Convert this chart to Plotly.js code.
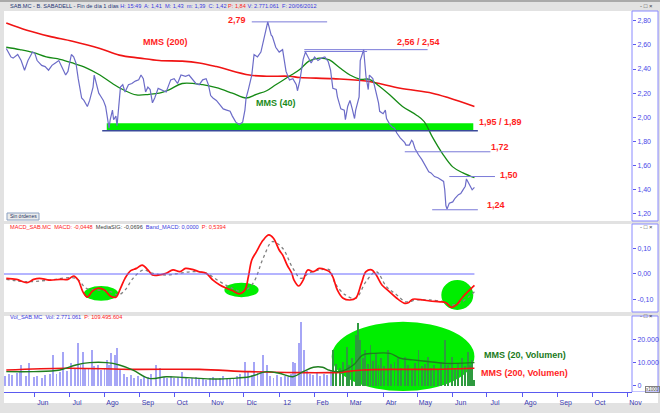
<!DOCTYPE html>
<html><head><meta charset="utf-8">
<script src="https://cdn.plot.ly/plotly-3.0.1.min.js"></script>
<style>html,body{margin:0;padding:0;background:#e2e2e2;} #chart{width:660px;height:413px;}</style>
</head><body><div id="chart"></div>
<script>
// ---------------- DATA ----------------
const priceDates = ['2011-05-07','2011-05-09','2011-05-11','2011-05-13','2011-05-17','2011-05-20','2011-05-23','2011-05-26','2011-05-30',
'2011-06-01','2011-06-03','2011-06-07','2011-06-10','2011-06-13','2011-06-16','2011-06-19','2011-06-22','2011-06-25','2011-06-28','2011-06-30',
'2011-07-03','2011-07-05','2011-07-07','2011-07-09','2011-07-11','2011-07-12','2011-07-14','2011-07-17','2011-07-19','2011-07-22','2011-07-23','2011-07-25','2011-07-27','2011-07-29','2011-07-31',
'2011-08-02','2011-08-03','2011-08-05','2011-08-06','2011-08-08','2011-08-09','2011-08-11','2011-08-12','2011-08-13','2011-08-14','2011-08-15','2011-08-17','2011-08-19','2011-08-22','2011-08-25','2011-08-28','2011-08-31',
'2011-09-02','2011-09-04','2011-09-06','2011-09-08','2011-09-10','2011-09-12','2011-09-14','2011-09-17','2011-09-24','2011-09-28',
'2011-10-01','2011-10-04','2011-10-07','2011-10-11','2011-10-14','2011-10-17','2011-10-20','2011-10-23','2011-10-26','2011-10-29','2011-10-31',
'2011-11-02','2011-11-04','2011-11-07','2011-11-10','2011-11-13','2011-11-16','2011-11-19','2011-11-21','2011-11-24','2011-11-27','2011-11-30',
'2011-12-02','2011-12-03','2011-12-05','2011-12-08','2011-12-10','2011-12-13','2011-12-16','2011-12-19','2011-12-22','2011-12-25','2011-12-26','2011-12-29',
'2012-01-01','2012-01-04','2012-01-06','2012-01-07','2012-01-10','2012-01-13','2012-01-16','2012-01-17','2012-01-19','2012-01-22','2012-01-24','2012-01-26','2012-01-29',
'2012-02-01','2012-02-04','2012-02-07','2012-02-10','2012-02-13','2012-02-15','2012-02-17','2012-02-20','2012-02-21','2012-02-24','2012-02-27','2012-02-28',
'2012-03-01','2012-03-03','2012-03-05','2012-03-07','2012-03-08','2012-03-11','2012-03-12','2012-03-14','2012-03-15','2012-03-16','2012-03-17','2012-03-19','2012-03-20','2012-03-23','2012-03-24','2012-03-26','2012-03-28','2012-03-29',
'2012-04-01','2012-04-03','2012-04-04','2012-04-07','2012-04-09','2012-04-11','2012-04-13','2012-04-16','2012-04-18','2012-04-20','2012-04-21','2012-04-24','2012-04-26','2012-04-27','2012-04-29',
'2012-05-01','2012-05-02','2012-05-05','2012-05-07','2012-05-09','2012-05-11','2012-05-13','2012-05-16','2012-05-19','2012-05-22','2012-05-24','2012-05-25','2012-05-26','2012-05-27','2012-05-29',
'2012-06-01','2012-06-03','2012-06-06','2012-06-08','2012-06-10','2012-06-12','2012-06-13','2012-06-14','2012-06-16','2012-06-18','2012-06-20'];
const priceClose = [2.57,2.53,2.50,2.49,2.52,2.47,2.39,2.47,2.54,
2.53,2.47,2.43,2.42,2.39,2.43,2.45,2.47,2.41,2.35,2.38,
2.52,2.50,2.45,2.32,2.23,2.16,2.14,2.09,2.14,2.25,2.35,2.28,2.20,2.17,2.14,
2.09,2.02,1.91,1.98,2.06,1.98,2.01,1.93,2.06,2.17,2.25,2.27,2.21,2.27,2.28,2.30,2.31,
2.35,2.32,2.21,2.25,2.23,2.12,2.16,2.24,2.21,2.31,
2.32,2.28,2.35,2.34,2.35,2.31,2.28,2.27,2.31,2.32,2.27,
2.18,2.16,2.14,2.10,2.07,2.06,2.05,2.01,1.96,1.94,1.96,
2.06,2.16,2.23,2.35,2.52,2.50,2.54,2.68,2.79,2.68,2.67,2.58,
2.54,2.56,2.45,2.38,2.31,2.32,2.27,2.22,2.30,2.48,2.54,2.50,2.45,
2.50,2.47,2.49,2.50,2.46,2.39,2.24,2.23,2.17,2.07,2.06,1.98,
2.09,2.14,2.07,1.99,2.06,2.17,2.47,2.53,2.56,2.45,2.34,2.23,2.35,2.32,2.28,2.20,2.12,2.05,
2.03,2.06,1.99,1.94,1.92,1.91,1.87,1.83,1.81,1.79,1.77,1.77,1.81,1.80,1.74,
1.70,1.69,1.65,1.62,1.59,1.55,1.54,1.51,1.50,1.48,1.47,1.40,1.27,1.24,1.29,
1.30,1.33,1.36,1.37,1.40,1.43,1.49,1.47,1.43,1.40,1.42];

const mms200Dates = ['2011-05-07','2011-05-25','2011-06-14','2011-07-04','2011-07-28','2011-08-14','2011-09-01','2011-09-18','2011-10-08','2011-10-23','2011-11-07','2011-12-06','2011-12-21','2012-01-10','2012-01-19','2012-02-17','2012-03-17','2012-04-16','2012-05-14','2012-05-29','2012-06-20'];
const mms200 = [2.78,2.72,2.67,2.63,2.57,2.515,2.49,2.47,2.465,2.45,2.42,2.35,2.34,2.34,2.33,2.32,2.30,2.24,2.20,2.16,2.09];

const mms40Dates = ['2011-05-07','2011-05-19','2011-05-31','2011-06-11','2011-06-23','2011-07-04','2011-07-16','2011-07-28','2011-08-08','2011-08-17','2011-08-29','2011-09-09','2011-09-18','2011-09-27','2011-10-08','2011-10-26','2011-11-07','2011-11-21','2011-12-03','2011-12-12','2011-12-21','2011-12-29','2012-01-10','2012-01-19','2012-01-27','2012-02-05','2012-02-14','2012-02-23','2012-03-03','2012-03-12','2012-03-20','2012-03-27','2012-04-07','2012-04-18','2012-04-30','2012-05-07','2012-05-14','2012-05-23','2012-06-01','2012-06-10','2012-06-20'];
const mms40 = [2.58,2.56,2.535,2.50,2.48,2.45,2.41,2.35,2.28,2.23,2.185,2.19,2.20,2.23,2.28,2.27,2.245,2.20,2.16,2.19,2.22,2.27,2.34,2.395,2.465,2.49,2.475,2.41,2.35,2.315,2.315,2.27,2.185,2.09,2.02,1.965,1.84,1.70,1.59,1.54,1.50];

const macdDates = ['2011-05-07','2011-05-16','2011-05-25','2011-05-31','2011-06-05','2011-06-14','2011-06-23','2011-06-30','2011-07-05','2011-07-09','2011-07-13','2011-07-17','2011-07-21','2011-07-26','2011-08-01','2011-08-06','2011-08-11','2011-08-15','2011-08-19','2011-08-24','2011-08-29','2011-09-03','2011-09-08','2011-09-12','2011-09-18','2011-09-24','2011-09-30','2011-10-06','2011-10-11','2011-10-17','2011-10-23','2011-10-29','2011-11-04','2011-11-10','2011-11-16','2011-11-21','2011-11-27','2011-12-02','2011-12-05','2011-12-08','2011-12-12','2011-12-18','2011-12-23','2011-12-27','2012-01-01','2012-01-04','2012-01-08','2012-01-12','2012-01-14','2012-01-18','2012-01-22','2012-01-26','2012-01-31','2012-02-05','2012-02-11','2012-02-14','2012-02-17','2012-02-21','2012-02-26','2012-03-03','2012-03-08','2012-03-13','2012-03-17','2012-03-22','2012-03-26','2012-03-31','2012-04-05','2012-04-13','2012-04-20','2012-04-23','2012-04-27','2012-05-06','2012-05-12','2012-05-21','2012-05-26','2012-05-31','2012-06-04','2012-06-10','2012-06-20'];
const macd = [-0.017,-0.021,-0.034,-0.021,-0.017,-0.024,-0.021,-0.021,-0.008,-0.024,-0.069,-0.091,-0.069,-0.056,-0.063,-0.086,-0.091,-0.056,-0.017,0.013,0.022,0.035,0.016,-0.004,-0.004,0.003,0.016,0.009,0.022,0.018,0.009,0.003,-0.024,-0.043,-0.056,-0.065,-0.078,-0.063,-0.011,0.055,0.087,0.133,0.153,0.140,0.094,0.075,0.035,0.003,-0.024,-0.047,-0.024,0.016,0.009,0.022,0.016,0.009,-0.011,-0.063,-0.095,-0.102,-0.095,-0.037,0.009,0.016,-0.004,-0.043,-0.063,-0.095,-0.115,-0.113,-0.099,-0.102,-0.106,-0.109,-0.113,-0.131,-0.122,-0.089,-0.045];

const signalDates = ['2011-05-07','2011-05-25','2011-06-14','2011-07-07','2011-07-16','2011-07-25','2011-08-06','2011-08-13','2011-08-19','2011-08-26','2011-09-04','2011-09-12','2011-09-24','2011-10-06','2011-10-17','2011-10-29','2011-11-10','2011-11-21','2011-11-30','2011-12-09','2011-12-18','2011-12-26','2012-01-04','2012-01-13','2012-01-20','2012-01-27','2012-02-05','2012-02-14','2012-02-19','2012-02-28','2012-03-08','2012-03-17','2012-03-26','2012-04-04','2012-04-13','2012-04-21','2012-04-30','2012-05-12','2012-05-24','2012-05-31','2012-06-09','2012-06-20'];
const signal = [-0.021,-0.030,-0.024,-0.017,-0.056,-0.063,-0.069,-0.082,-0.063,-0.017,0.016,0.003,-0.004,0.003,0.009,0.003,-0.030,-0.056,-0.069,-0.037,0.062,0.127,0.101,0.022,-0.017,0.003,0.016,0.016,-0.037,-0.082,-0.095,-0.030,0.009,-0.050,-0.082,-0.109,-0.102,-0.102,-0.109,-0.122,-0.109,-0.070];

const volDates = ['2011-05-06','2011-05-09','2011-05-12','2011-05-16','2011-05-19','2011-05-20','2011-05-24','2011-05-27','2011-05-31',
'2011-06-03','2011-06-07','2011-06-10','2011-06-14','2011-06-17','2011-06-20','2011-06-23','2011-06-26','2011-06-29',
'2011-07-03','2011-07-06','2011-07-09','2011-07-11','2011-07-13','2011-07-15','2011-07-18','2011-07-21','2011-07-23','2011-07-26','2011-07-29',
'2011-08-01','2011-08-03','2011-08-05','2011-08-07','2011-08-10','2011-08-12','2011-08-15','2011-08-18','2011-08-21','2011-08-24','2011-08-27','2011-08-30',
'2011-09-02','2011-09-05','2011-09-08','2011-09-11','2011-09-15','2011-09-19','2011-09-22','2011-09-25','2011-09-28',
'2011-10-01','2011-10-04','2011-10-08','2011-10-11','2011-10-14','2011-10-17','2011-10-20','2011-10-23','2011-10-26','2011-10-29',
'2011-11-01','2011-11-04','2011-11-07','2011-11-10','2011-11-13','2011-11-16','2011-11-19','2011-11-22','2011-11-25','2011-11-28',
'2011-12-02','2011-12-05','2011-12-08','2011-12-10','2011-12-13','2011-12-16','2011-12-18','2011-12-21','2011-12-24','2011-12-27','2011-12-30',
'2012-01-03','2012-01-06','2012-01-09','2012-01-11','2012-01-13','2012-01-15','2012-01-18','2012-01-20','2012-01-23','2012-01-25','2012-01-28','2012-01-31',
'2012-02-03','2012-02-06','2012-02-09','2012-02-12','2012-02-15','2012-02-17','2012-02-20','2012-02-23','2012-02-26','2012-02-29',
'2012-03-02','2012-03-05','2012-03-08','2012-03-10','2012-03-12','2012-03-14','2012-03-16','2012-03-19','2012-03-21','2012-03-23','2012-03-26','2012-03-28','2012-03-30',
'2012-04-02','2012-04-05','2012-04-08','2012-04-11','2012-04-14','2012-04-17','2012-04-20','2012-04-23','2012-04-26','2012-04-29',
'2012-05-02','2012-05-05','2012-05-08','2012-05-10','2012-05-13','2012-05-16','2012-05-19','2012-05-22','2012-05-25','2012-05-28','2012-05-31',
'2012-06-03','2012-06-06','2012-06-09','2012-06-12','2012-06-14','2012-06-16','2012-06-18','2012-06-20'];
const volume = [4200,5200,4800,5600,6200,9100,4500,10100,3800,
4200,3500,4600,5200,13400,5000,6100,14800,6500,
10000,7200,18500,9000,14800,8000,7500,15600,8500,9100,6800,
7500,11300,9000,14100,13400,16300,7000,5200,4000,4800,3500,4200,
3200,4500,3800,5000,9100,7700,4000,3500,4200,
3300,4000,6200,3800,3000,3600,4100,3200,3500,2800,
3300,3900,3000,3600,4200,3100,3400,2900,4300,5200,
10500,6200,4800,10500,5800,6500,13400,9100,4200,3500,4800,
3900,4500,3800,5200,10500,9800,18500,27800,15600,6500,5200,4800,
5500,4300,5000,4600,7000,15600,9500,8000,10500,17000,
9000,12000,22100,27400,19900,12000,15600,9500,17700,11000,14100,9000,12000,
8500,15600,9500,10500,12000,8000,12700,9000,7500,10000,
15600,8500,9500,12700,8000,9000,7500,10500,19900,9000,12700,
8000,9500,12000,8500,14800,9000,11300,2771];

const volMA20Dates = ['2011-05-07','2011-05-31','2011-06-23','2011-07-07','2011-07-19','2011-08-03','2011-08-14','2011-08-26','2011-09-09','2011-09-24','2011-10-09','2011-10-23','2011-11-07','2011-11-21','2011-12-06','2011-12-21','2012-01-01','2012-01-13','2012-01-22','2012-01-31','2012-02-08','2012-02-14','2012-02-23','2012-03-06','2012-03-14','2012-03-23','2012-04-07','2012-04-16','2012-04-27','2012-05-12','2012-05-26','2012-06-04','2012-06-20'];
const volMA20 = [6200,6200,6900,9100,10100,10100,9100,6900,3300,4000,3700,3300,3000,3300,4000,6200,5500,4000,6200,8100,8100,6800,6200,9100,13400,14100,14100,12000,11300,10500,9800,9800,10100];

const volMA200Dates = ['2011-05-07','2011-06-28','2011-08-26','2011-10-23','2011-12-06','2012-01-19','2012-02-14','2012-02-23','2012-03-14','2012-04-13','2012-05-12','2012-06-20'];
const volMA200 = [6900,7700,7200,7200,6200,5800,5800,5900,6900,7200,7200,7700];

const monthTicks = ['2011-06-01','2011-07-01','2011-08-01','2011-09-01','2011-10-01','2011-11-01','2011-12-01','2012-01-01','2012-02-01','2012-03-01','2012-04-01','2012-05-01','2012-06-01','2012-07-01','2012-08-01','2012-09-01','2012-10-01','2012-11-01'];
const monthLabels = ['Jun','Jul','Ago','Sep','Oct','Nov','Dic','12','Feb','Mar','Abr','May','Jun','Jul','Ago','Sep','Oct','Nov'];

const priceTicks = [1.2,1.4,1.6,1.8,2.0,2.2,2.4,2.6,2.8];
const macdTicks = [-0.1,0,0.1];
const macdTickLabels = ['-0,10','0,00','0,10'];
const volTicks = [0,10000,20000];
const volTickLabels = ['0','10.000','20.000'];

// ---------------- CHART ----------------
const FONT = 'Arial, "Liberation Sans", sans-serif';
const BLUE = '#5a5af0';
const RED = '#ff1e1e';
const LEVEL = '#7a7ad8';
const GREEN_FILL = '#00ee00';

const ellipseStart = '2012-02-16', ellipseEnd = '2012-06-20';
const volColors = volDates.map(d => (d >= ellipseStart && d <= ellipseEnd) ? '#2f9a3f' : '#a6a6f6');

const traces = [
  {type:'bar', x:volDates, y:volume, xaxis:'x', yaxis:'y3', marker:{color:volColors, line:{width:0}}, width:1.7*86400000, hoverinfo:'skip'},
  {type:'scatter', mode:'lines', x:volMA200Dates, y:volMA200, xaxis:'x', yaxis:'y3', line:{color:'#f01414', width:1.6, shape:'spline'}, hoverinfo:'skip'},
  {type:'scatter', mode:'lines', x:volMA20Dates, y:volMA20, xaxis:'x', yaxis:'y3', line:{color:'#1e7e1e', width:1.4, shape:'spline'}, hoverinfo:'skip'},
  {type:'scatter', mode:'lines', x:signalDates, y:signal, xaxis:'x', yaxis:'y2', line:{color:'#808080', width:1.3, dash:'dot', shape:'spline'}, hoverinfo:'skip'},
  {type:'scatter', mode:'lines', x:macdDates, y:macd, xaxis:'x', yaxis:'y2', line:{color:'#ff1010', width:1.7, shape:'spline'}, hoverinfo:'skip'},
  {type:'scatter', mode:'lines', x:mms200Dates, y:mms200, xaxis:'x', yaxis:'y', line:{color:'#f01414', width:1.6, shape:'spline'}, hoverinfo:'skip'},
  {type:'scatter', mode:'lines', x:mms40Dates, y:mms40, xaxis:'x', yaxis:'y', line:{color:'#158a15', width:1.3, shape:'spline'}, hoverinfo:'skip'},
  {type:'scatter', mode:'lines', x:priceDates, y:priceClose, xaxis:'x', yaxis:'y', line:{color:'#6c6cc8', width:1.2}, hoverinfo:'skip'}
];

// pixel -> paper helpers (plot area: x 4..632, y 11..392)
const px = v => (v - 4) / 628;
const py = v => (392 - v) / 381;

const shapes = [
  // top bar darker line
  {type:'rect', xref:'paper', yref:'paper', x0:px(0), x1:px(664), y0:py(2), y1:py(-2), fillcolor:'#a9a9a9', line:{width:0}, layer:'below'},
  // right axis boxes
  {type:'rect', xref:'paper', yref:'paper', x0:1, x1:px(658), y0:py(221), y1:1, fillcolor:'#ffffff', line:{color:'#8a8aff', width:1}, layer:'below'},
  {type:'rect', xref:'paper', yref:'paper', x0:1, x1:px(658), y0:py(312), y1:py(224), fillcolor:'#ffffff', line:{color:'#8a8aff', width:1}, layer:'below'},
  {type:'rect', xref:'paper', yref:'paper', x0:1, x1:px(658), y0:0, y1:py(316), fillcolor:'#ffffff', line:{color:'#8a8aff', width:1}, layer:'below'},
  // white strip under x axis
  {type:'rect', xref:'paper', yref:'paper', x0:0, x1:px(658), y0:py(403), y1:0, fillcolor:'#ffffff', line:{width:0}, layer:'below'},
  // green support band 1.95 / 1.89
  {type:'rect', xref:'x', yref:'y', x0:'2011-08-03', x1:'2012-06-19', y0:1.89, y1:1.95, fillcolor:GREEN_FILL, line:{width:0}, layer:'below'},
  {type:'line', xref:'x', yref:'y', x0:'2011-07-30', x1:'2012-06-23', y0:1.888, y1:1.888, line:{color:'#3a4a9a', width:1.5}},
  // resistance / support lines
  {type:'line', xref:'x', yref:'y', x0:'2011-12-08', x1:'2012-02-12', y0:2.79, y1:2.79, line:{color:LEVEL, width:1}},
  {type:'line', xref:'x', yref:'y', x0:'2012-01-23', x1:'2012-05-10', y0:2.56, y1:2.56, line:{color:LEVEL, width:1}},
  {type:'line', xref:'x', yref:'y', x0:'2012-01-23', x1:'2012-03-18', y0:2.545, y1:2.545, line:{color:LEVEL, width:1}},
  {type:'line', xref:'x', yref:'y', x0:'2012-04-20', x1:'2012-07-04', y0:1.715, y1:1.715, line:{color:LEVEL, width:1}},
  {type:'line', xref:'x', yref:'y', x0:'2012-05-29', x1:'2012-07-08', y0:1.51, y1:1.51, line:{color:LEVEL, width:1}},
  {type:'line', xref:'x', yref:'y', x0:'2012-05-14', x1:'2012-06-23', y0:1.235, y1:1.235, line:{color:LEVEL, width:1}},
  // MACD zero line
  {type:'line', xref:'x', yref:'y2', x0:'2011-05-05', x1:'2012-06-20', y0:0, y1:0, line:{color:'#6a6aff', width:1.2}},
  // MACD ellipses
  {type:'circle', xref:'x', yref:'y2', x0:'2011-07-14', x1:'2011-08-13', y0:-0.105, y1:-0.047, fillcolor:GREEN_FILL, line:{width:0}, layer:'below'},
  {type:'circle', xref:'x', yref:'y2', x0:'2011-11-14', x1:'2011-12-14', y0:-0.091, y1:-0.034, fillcolor:GREEN_FILL, line:{width:0}, layer:'below'},
  {type:'circle', xref:'x', yref:'y2', x0:'2012-05-22', x1:'2012-06-19', y0:-0.141, y1:-0.0235, fillcolor:GREEN_FILL, line:{width:0}, layer:'below'},
  // volume ellipse
  {type:'circle', xref:'x', yref:'y3', x0:'2012-02-16', x1:'2012-06-20', y0:-2200, y1:27800, fillcolor:GREEN_FILL, line:{width:0}, layer:'below'},
  // "Sin órdenes" button
  {type:'rect', xref:'paper', yref:'paper', x0:px(7), x1:px(39), y0:py(220), y1:py(213), fillcolor:'#ececec', line:{color:'#8aa0c0', width:1}}
];

const lbl = (x, y, t, ref) => ({xref:'x', yref:ref || 'y', x:x, y:y, text:'<b>'+t+'</b>', showarrow:false,
  font:{family:FONT, size:9, color:RED}, xanchor:'center', yanchor:'middle'});

const annotations = [
  lbl('2011-11-25', 2.806, '2,79'),
  lbl('2012-05-02', 2.624, '2,56 / 2,54'),
  lbl('2012-07-13', 1.961, '1,95 / 1,89'),
  lbl('2012-07-12', 1.755, '1,72'),
  lbl('2012-07-20', 1.523, '1,50'),
  lbl('2012-07-09', 1.274, '1,24'),
  lbl('2011-09-23', 2.624, 'MMS (200)'),
  {xref:'x', yref:'y', x:'2011-12-29', y:2.119, text:'<b>MMS (40)</b>', showarrow:false, font:{family:FONT, size:9, color:'#1a8a1a'}},
  {xref:'x', yref:'y3', x:'2012-08-03', y:13420, text:'<b>MMS (20, Volumen)</b>', showarrow:false, font:{family:FONT, size:9, color:'#1a7a1a'}},
  {xref:'x', yref:'y3', x:'2012-08-03', y:5630, text:'<b>MMS (200, Volumen)</b>', showarrow:false, font:{family:FONT, size:9, color:RED}},
  // headers
  {xref:'paper', yref:'paper', x:px(8), y:py(6), xanchor:'left', yanchor:'middle', showarrow:false, font:{family:FONT, size:5.6, color:'#203070'},
   text:'<span style="color:#253575">SAB.MC - B. SABADELL - Fin de día 1 días</span> <span style="color:#3a3ae0">H: 15:49  A: 1,41  M: 1,43  m: 1,39  C: 1,42</span> <span style="color:#ff2020">P: 1,84</span> <span style="color:#3a3ae0">V: 2.771.061  F: 20/06/2012</span>'},
  {xref:'paper', yref:'paper', x:px(8), y:py(227), xanchor:'left', yanchor:'middle', showarrow:false, font:{family:FONT, size:5.6, color:'#ff2020'},
   text:'<span style="color:#ff2020">MACD_SAB.MC  MACD: -0,0448</span>  <span style="color:#404040">MediaSIG: -0,0696</span>  <span style="color:#3a3ae0">Band_MACD: 0,0000</span>  <span style="color:#ff2020">P: 0,5394</span>'},
  {xref:'paper', yref:'paper', x:px(8), y:py(317), xanchor:'left', yanchor:'middle', showarrow:false, font:{family:FONT, size:5.6, color:'#3a3ae0'},
   text:'<span style="color:#3a3ae0">Vol_SAB.MC  Vol: 2.771.061</span>  <span style="color:#ff2020">P: 109.495.604</span>'},
  {xref:'paper', yref:'paper', x:px(23), y:py(216.5), xanchor:'center', yanchor:'middle', showarrow:false, font:{family:FONT, size:5, color:'#203060'}, text:'Sin órdenes'},
  {xref:'paper', yref:'paper', x:px(652), y:py(389), xanchor:'center', yanchor:'middle', showarrow:false, font:{family:FONT, size:4.5, color:'#404040'}, text:'x1000', bordercolor:'#808080', borderwidth:1, borderpad:0},
  {xref:'paper', yref:'paper', x:px(646), y:py(6), xanchor:'center', yanchor:'middle', showarrow:false, font:{family:FONT, size:6, color:'#404040'}, text:'- □ ×'},
  {xref:'paper', yref:'paper', x:px(646), y:py(227), xanchor:'center', yanchor:'middle', showarrow:false, font:{family:FONT, size:6, color:'#404040'}, text:'- □ ×'},
  {xref:'paper', yref:'paper', x:px(646), y:py(316), xanchor:'center', yanchor:'middle', showarrow:false, font:{family:FONT, size:6, color:'#404040'}, text:'- □ ×'}
];

const yCommon = {side:'right', anchor:'x', showgrid:false, zeroline:false, showline:false, ticks:'outside', ticklen:3, tickcolor:BLUE,
  tickfont:{family:FONT, size:7, color:'#4848e8'}, fixedrange:true};

const layout = {
  width:660, height:413,
  margin:{l:4, r:28, t:11, b:21, pad:0},
  paper_bgcolor:'#e2e2e2', plot_bgcolor:'#ffffff',
  separators:',.',
  showlegend:false,
  font:{family:FONT},
  xaxis:{type:'date', anchor:'y3', domain:[0,1], range:['2011-05-05','2012-11-05'], tickvals:monthTicks, ticktext:monthLabels,
    ticks:'outside', ticklen:4, tickcolor:BLUE, showline:true, linecolor:BLUE, linewidth:1, showgrid:false, zeroline:false,
    tickfont:{family:FONT, size:7, color:'#3a3ab0'}, ticklabelshift:8, fixedrange:true},
  yaxis:Object.assign({}, yCommon, {domain:[py(221),1], range:[1.142,2.880], tickvals:priceTicks, tickformat:'.2f'}),
  yaxis2:Object.assign({}, yCommon, {domain:[py(312),py(224)], range:[-0.149,0.196], tickvals:macdTicks, ticktext:macdTickLabels}),
  yaxis3:Object.assign({}, yCommon, {domain:[0,py(316)], range:[-2600,30300], tickvals:volTicks, ticktext:volTickLabels}),
  bargap:0,
  shapes:shapes,
  annotations:annotations
};

Plotly.newPlot('chart', traces, layout, {staticPlot:true, displayModeBar:false});
</script></body></html>
